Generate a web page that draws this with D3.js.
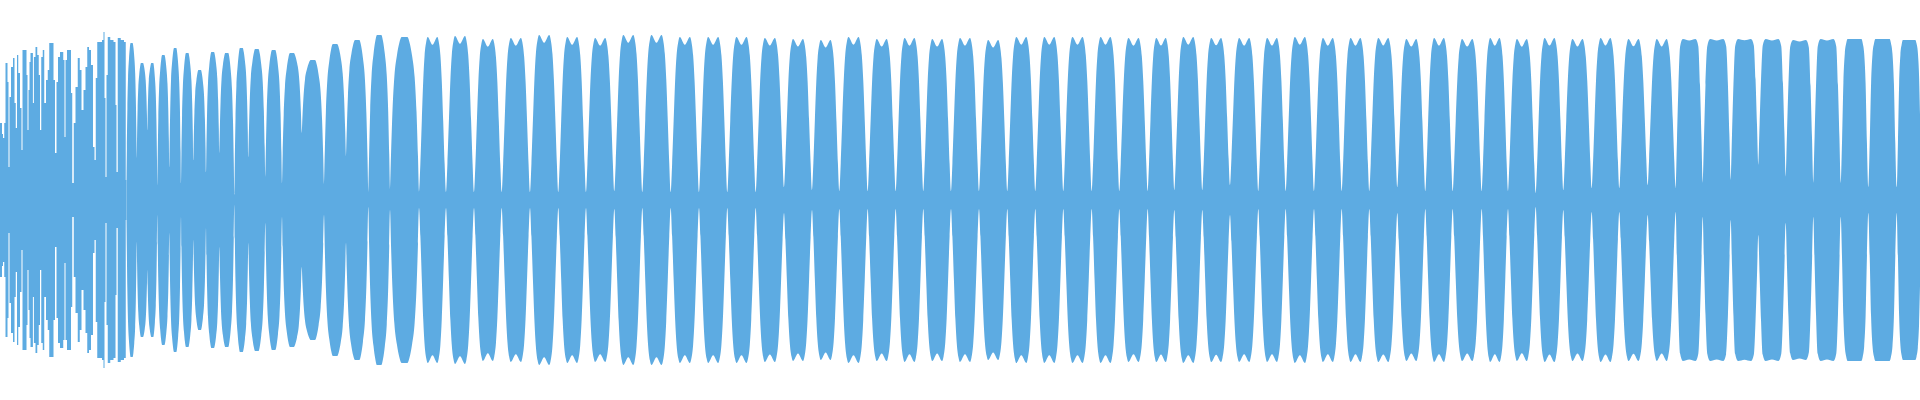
<!DOCTYPE html>
<html>
<head>
<meta charset="utf-8">
<script src="https://cdn.jsdelivr.net/npm/d3@7"></script>
<style>
  html, body { margin: 0; padding: 0; background: #fff; overflow: hidden; }
  #wave { width: 1920px; height: 400px; }
</style>
</head>
<body>
<div id="wave"></div>
<script>
// waveform peaks, column units on x, level 0..200 (half height) on y

// start of the clip: dense irregular peaks, read point by point
const earlyX = [0, 1.5, 2.5, 3.5, 5, 6, 7, 8, 9, 10, 12, 14, 15, 16.5, 17.5, 19, 21, 22, 23, 26,
  27, 28, 29, 30, 31, 32.5, 33.3, 34.5, 36.5, 38, 39.5, 40.5, 42, 43.5, 45, 47, 48.5, 50, 53, 54,
  56, 57, 59, 61, 62.5, 64, 65, 66, 68, 70.5, 71.5, 73, 74.5, 76.5, 79, 80.5, 82.5, 84.5, 86.5, 88,
  90, 92, 94, 95, 96.5, 98, 101, 103, 104, 105, 106, 107, 108.5, 112, 115, 116, 117, 118.5, 123, 125];
const earlyLevel = [77, 77, 66, 62, 77, 137, 137, 118, 33, 103, 133, 142, 97, 72, 145, 127, 92, 50, 150, 150,
  125, 70, 110, 138, 147, 147, 97, 143, 153, 145, 125, 70, 143, 150, 97, 120, 130, 157, 157, 120,
  47, 118, 143, 148, 148, 140, 63, 140, 150, 150, 107, 17, 77, 113, 142, 130, 90, 110, 133, 153,
  150, 135, 53, 40, 122, 158, 158, 160, 168, 102, 23, 125, 163, 160, 158, 95, 28, 162, 160, 158];

// the rest: one lobe between each pair of gaps
const gapX = [126.5, 136.7, 147.3, 157.3, 169.3, 181, 193.3, 206, 219.3, 234.3,
  248.3, 265.3, 282, 301.7, 324, 346, 368.3, 390, 419, 446,
  474, 501.7, 530, 558.3, 586, 614.3, 642.3, 670.7, 699, 727.3,
  755.7, 784, 812, 839.3, 867.7, 895.7, 923.3, 951, 979, 1007.3,
  1035.3, 1063.3, 1091.7, 1119.3, 1147.7, 1174.3, 1202.3, 1230, 1258.3, 1285.7,
  1314, 1341.7, 1369.3, 1397.3, 1425.3, 1452.7, 1481.7, 1508, 1535.7, 1563.3,
  1591.7, 1619.3, 1647.7, 1675.7, 1702.7, 1730.7, 1758.3, 1785.7, 1813.3, 1840.7,
  1868.3, 1896.7, 1921.5];
const gapLevel = [20, 42, 70, 15, 33, 17, 40, 28, 47, 5,
  43, 23, 17, 67, 15, 43, 7, 10, 8, 8,
  8, 8, 8, 8, 8, 9, 8, 8, 8, 8,
  8, 13, 10, 9, 9, 9, 9, 9, 9, 9,
  9, 9, 9, 9, 9, 10, 10, 15, 9, 9,
  9, 9, 9, 13, 9, 9, 9, 9, 7, 10,
  12, 12, 15, 12, 17, 20, 35, 23, 17, 17,
  13, 13, 40];
const peakLevel = [157, 137, 137, 145, 152, 147, 130, 148, 147, 152,
  151, 150, 147, 140, 156, 160, 165, 163, 163, 164,
  161, 162, 165, 163, 162, 165, 165, 163, 163, 163,
  162, 161, 160, 163, 161, 162, 161, 162, 160, 163,
  163, 163, 163, 162, 162, 163, 162, 162, 162, 163,
  162, 162, 162, 161, 162, 161, 162, 161, 162, 161,
  162, 161, 161, 161, 161, 161, 161, 160, 161, 161,
  161, 160];
const lobeKind = ['r', 'r', 'r', 'r', 'r', 'r', 'r', 'r', 'r', 'r',
  'r', 'r', 'r', 'r', 'r', 'r', 'r', 'r', 'n', 'n',
  'n', 'n', 'n', 'n', 'n', 'n', 'n', 'n', 'n', 'n',
  'n', 'n', 'n', 'n', 'n', 'n', 'n', 'n', 'n', 'n',
  'n', 'n', 'n', 'n', 'n', 'n', 'n', 'n', 'n', 'n',
  'n', 'n', 'n', 'n', 'n', 'n', 'n', 'n', 'n', 'n',
  'n', 'n', 'n', 'm', 'm', 'm', 'm', 'm', 'm', 'w',
  'w', 'w'];

// lobe outlines read from single lobes (position across the lobe, share of the rise)
const lobeShape = {
  r: { t: [0, .035, .086, .15, .24, .32, .4, .5, .6, .68, .76, .85, .914, .965, 1],
       a: [0, .23, .52, .74, .88, .96, 1, 1, 1, .96, .88, .74, .52, .23, 0] },
  n: { t: [0, .05, .104, .157, .207, .268, .321, .5, .679, .732, .793, .843, .896, .95, 1],
       a: [0, .18, .46, .72, .88, .97, 1, .95, 1, .97, .88, .72, .46, .18, 0] },
  m: { t: [0, .047, .1, .163, .265, .5, .735, .837, .9, .953, 1],
       a: [0, .32, .68, .95, 1, .99, 1, .95, .68, .32, 0] },
  w: { t: [0, .05, .098, .149, .2, .25, .5, .75, .8, .851, .902, .95, 1],
       a: [0, .3, .7, .9, .97, 1, 1, 1, .97, .9, .7, .3, 0] }
};

const chart = {};

chart.create = function(config){
  chart.config = config;
  this.config.width_svg = document.getElementById(this.config.target).clientWidth;
  this.config.height_svg = document.getElementById(this.config.target).clientHeight;
  this.config.color = '#5dabe2';
  this.config.svg = d3.select(`#${this.config.target}`)
                      .append('svg')
                      .attr('width', this.config.width_svg)
                      .attr('height', this.config.height_svg);
  this.update();
}

chart.update = function(){
  let width_svg = this.config.width_svg,
      height_svg = this.config.height_svg,
      color = this.config.color,
      svg = this.config.svg;

  // early part, one bar-like step per read point
  let early = earlyX.map((x, i) => ({x: x, v: earlyLevel[i]}));
  early.push({x: gapX[0], v: gapLevel[0]});

  // lobes, outline points from the shape read for each kind
  let lobes = [];
  for(let i = 0; i < peakLevel.length; i++){
    let x0 = gapX[i], x1 = gapX[i + 1], shape = lobeShape[lobeKind[i]];
    shape.t.forEach((t, j) => {
      if(i > 0 && j === 0) return;  // shared gap point
      let g = t < .5 ? gapLevel[i] : gapLevel[i + 1];
      lobes.push({x: x0 + t * (x1 - x0), v: g + shape.a[j] * (peakLevel[i] - g)});
    });
  }

  let xScale = d3.scaleLinear()
                .domain([0, 1920])
                .range([0, width_svg]);
  let yScale = d3.scaleLinear()
                .domain([-200, 200])
                .range([height_svg, 0]);
  let area = d3.area()
              .x(d => xScale(d.x))
              .y0(d => yScale(-d.v))
              .y1(d => yScale(d.v));

  let g = svg.append('g')
            .attr('fill', color)
            .attr('stroke', 'none');
  g.append('path')
    .datum(early)
    .attr('d', area.curve(d3.curveStep));
  g.append('path')
    .datum(lobes)
    .attr('d', area.curve(d3.curveMonotoneX));
}

chart.create({target: 'wave'});
</script>
</body>
</html>
